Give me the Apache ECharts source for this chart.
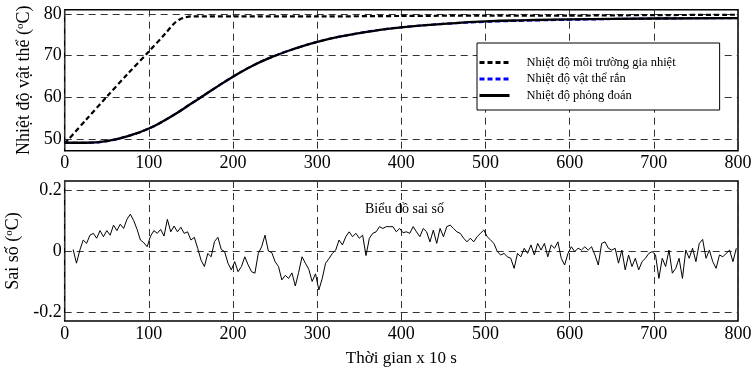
<!DOCTYPE html>
<html><head><meta charset="utf-8">
<script src="https://cdn.jsdelivr.net/npm/echarts@6/dist/echarts.min.js"></script>
<style>html,body{margin:0;padding:0;background:#fff}#c{width:752px;height:373px}</style>
</head><body><div id="c"></div>
<script>
// Top plot: temperatures
const envTime = [0,25,50,75,100,120,130,136,142,150,200,300,400,500,600,700,800];
const envTemp = [49,54.6,60.2,65.7,71.0,75.4,77.7,78.6,79.1,79.4,79.4,79.4,79.5,79.6,79.6,79.7,79.8];
const objTime = [0,25,50,75,100,125,150,175,200,225,250,275,300,325,350,375,400,450,500,550,600,700,800];
const solidTemp = [49.2,49.2,49.6,50.8,52.6,55.3,58.5,61.8,65.0,67.8,70.0,71.8,73.3,74.5,75.4,76.2,76.8,77.6,78.2,78.5,78.7,78.9,79.0];
const estTemp  = [49.2,49.2,49.6,50.8,52.6,55.3,58.5,61.8,65.0,67.8,70.0,71.8,73.3,74.5,75.4,76.2,76.8,77.6,78.1,78.4,78.6,78.9,79.0];
// Bottom plot: error, sampled every 4 time units starting at 10
const errStart = 10, errStep = 4;
const errValues = [
 0.005,-0.04,0.003,0.036,0.025,0.052,0.058,0.042,0.067,0.047,
 0.067,0.052,0.085,0.067,0.088,0.074,0.104,0.121,0.10,0.071,
 0.036,0.027,0.014,0.049,0.067,0.058,0.071,0.049,0.104,0.063,
 0.082,0.063,0.078,0.058,0.063,0.036,0.045,0.009,-0.03,-0.051,
 -0.008,-0.019,0.031,0.045,0.005,-0.002,-0.04,-0.062,
 -0.035,-0.068,-0.051,-0.019,-0.046,-0.068,-0.073,-0.008,0.014,0.052,
 0.0,-0.005,-0.035,-0.051,-0.095,-0.08,-0.09,-0.072,-0.115,-0.07,
 -0.019,-0.04,-0.06,-0.1,-0.075,-0.128,-0.09,-0.04,-0.025,-0.008,
 0.003,0.036,0.02,0.047,0.063,0.047,0.058,0.042,0.052,-0.015,
 0.042,0.058,0.063,0.08,0.074,0.08,0.08,0.08,0.063,0.074,
 0.06,0.063,0.058,0.08,0.063,0.047,0.074,0.063,0.03,0.069,
 0.025,0.074,0.047,0.08,0.085,0.074,0.063,0.058,0.042,0.03,
 0.042,0.03,0.047,0.058,0.069,0.047,0.036,0.025,-0.002,-0.013,
 -0.008,-0.019,-0.024,-0.057,-0.008,-0.019,0.009,-0.008,0.02,-0.013,
 0.025,0.003,0.025,-0.019,0.02,0.009,0.03,-0.024,-0.046,-0.008,
 0.014,-0.002,0.009,0.003,0.014,0.003,0.014,-0.013,-0.046,0.025,
 0.03,0.009,0.003,0.009,-0.04,0.003,-0.062,-0.013,-0.051,-0.024,
 -0.062,-0.035,-0.024,-0.008,-0.002,-0.013,-0.09,-0.024,-0.051,0.003,
 -0.073,-0.057,-0.024,-0.09,0.003,-0.024,0.009,-0.035,0.025,0.038,
 -0.024,0.003,-0.035,-0.057,-0.013,-0.019,-0.008,0.003,-0.035,0.009
];
const topYTicks = [50,60,70,80];
const botYTicks = [-0.2,0,0.2];
const legendNames = ['Nhiệt độ môi trường gia nhiệt','Nhiệt độ vật thể rắn','Nhiệt độ phỏng đoán'];

const pair = (xs, ys) => xs.map((x, i) => [x, ys[i]]);
const errData = errValues.map((v, i) => [errStart + i * errStep, v]);

const FONT = 'Liberation Serif';
const gridLine = { show: true, lineStyle: { color: '#333', type: [7, 5], width: 1 } };
const xAxisBase = (gi) => ({
  type: 'value', gridIndex: gi, min: 0, max: 800, interval: 100,
  axisLine: { show: false }, axisTick: { show: false },
  axisLabel: { color: '#000', fontFamily: FONT, fontSize: 18, margin: 4 },
  splitLine: gridLine
});

const chart = echarts.init(document.getElementById('c'));
chart.setOption({
  animation: false,
  backgroundColor: '#fff',
  grid: [
    { left: 64.7, top: 9.7, width: 673.3, height: 141, show: true, borderColor: '#000', borderWidth: 1.5, backgroundColor: 'transparent', outerBoundsMode: 'none', containLabel: false },
    { left: 64.7, top: 181, width: 673.3, height: 140, show: true, borderColor: '#000', borderWidth: 1.5, backgroundColor: 'transparent', outerBoundsMode: 'none', containLabel: false }
  ],
  xAxis: [
    xAxisBase(0),
    Object.assign(xAxisBase(1), {
      name: 'Thời gian x 10 s', nameLocation: 'middle', nameGap: 29,
      nameTextStyle: { color: '#000', fontFamily: FONT, fontSize: 17 }
    })
  ],
  yAxis: [
    {
      type: 'value', gridIndex: 0, min: 47.3, max: 81,
      axisLine: { show: false },
      axisTick: { show: false, customValues: topYTicks },
      axisLabel: { customValues: topYTicks, color: '#000', fontFamily: FONT, fontSize: 18, margin: 3 },
      splitLine: gridLine,
      name: 'Nhiệt độ vật thể ({s|o}C)', nameLocation: 'middle', nameGap: 28,
      nameTextStyle: { color: '#000', fontFamily: FONT, fontSize: 18,
        rich: { s: { fontSize: 11, fontFamily: FONT, color: '#000', padding: [0, 0, 8, 0] } } }
    },
    {
      type: 'value', gridIndex: 1, min: -0.23, max: 0.23,
      axisLine: { show: false },
      axisTick: { show: false, customValues: botYTicks },
      axisLabel: { customValues: botYTicks, color: '#000', fontFamily: FONT, fontSize: 18, margin: 3 },
      splitLine: gridLine,
      name: 'Sai số ({s|o}C)', nameLocation: 'middle', nameGap: 31,
      nameTextStyle: { color: '#000', fontFamily: FONT, fontSize: 18,
        rich: { s: { fontSize: 11, fontFamily: FONT, color: '#000', padding: [0, 0, 8, 0] } } }
    }
  ],
  legend: {
    data: legendNames, orient: 'vertical', left: 477, top: 43,
    backgroundColor: '#fff', borderColor: '#000', borderWidth: 1, borderRadius: 0,
    padding: [13, 44, 8, 1], itemWidth: 30, itemHeight: 14, itemGap: 3.5,
    itemStyle: { opacity: 0 },
    lineStyle: { width: 3 },
    textStyle: { color: '#000', fontFamily: FONT, fontSize: 12.5, padding: [0, 0, 0, 12] }
  },
  graphic: [
    { type: 'text', left: 365, top: 202, z: 100,
      style: { text: 'Biểu đồ sai số', font: '14px "Liberation Serif"', fill: '#000' } }
  ],
  series: [
    { name: legendNames[0], type: 'line', xAxisIndex: 0, yAxisIndex: 0, data: pair(envTime, envTemp),
      smooth: 0.3, showSymbol: false, symbol: 'none',
      lineStyle: { color: '#000', width: 2.2, type: [5, 3] }, itemStyle: { color: '#000' } },
    { name: legendNames[1], type: 'line', xAxisIndex: 0, yAxisIndex: 0, data: pair(objTime, estTemp),
      smooth: true, showSymbol: false, symbol: 'none',
      lineStyle: { color: '#0000ff', width: 2.2, type: [5, 3] }, itemStyle: { color: '#0000ff' } },
    { name: legendNames[2], type: 'line', xAxisIndex: 0, yAxisIndex: 0, data: pair(objTime, solidTemp),
      smooth: true, showSymbol: false, symbol: 'none',
      lineStyle: { color: '#000', width: 2.3 }, itemStyle: { color: '#000' } },
    { name: 'err', type: 'line', xAxisIndex: 1, yAxisIndex: 1, data: errData,
      showSymbol: false, symbol: 'none',
      lineStyle: { color: '#000', width: 1 }, itemStyle: { color: '#000' } }
  ]
});
</script>
</body></html>
